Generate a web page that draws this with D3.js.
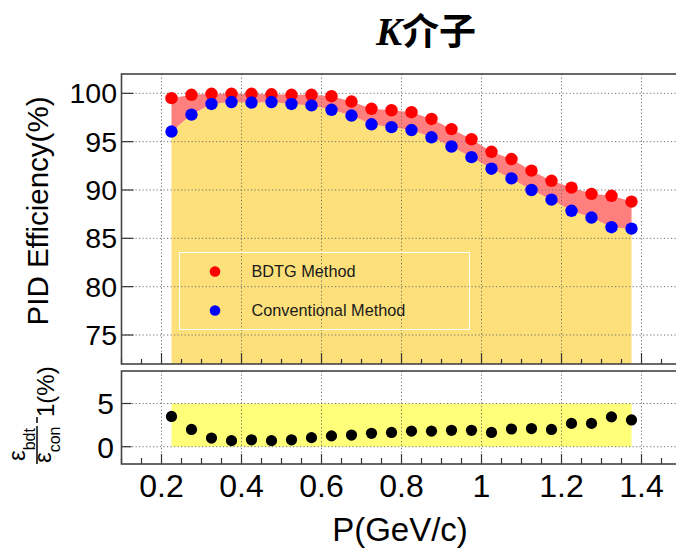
<!DOCTYPE html>
<html><head><meta charset="utf-8">
<script src="https://cdn.jsdelivr.net/npm/d3@7"></script>
<style>html,body{margin:0;padding:0;background:#fff;overflow:hidden}</style>
</head><body><svg id="c" width="676" height="553"></svg>
<script>
// Kaon PID efficiency vs momentum: BDTG vs conventional method, with relative gain panel
const momentum = [0.225,0.275,0.325,0.375,0.425,0.475,0.525,0.575,0.625,0.675,0.725,0.775,
                  0.825,0.875,0.925,0.975,1.025,1.075,1.125,1.175,1.225,1.275,1.325,1.375];
const bdtgEff = [99.5,99.85,99.95,99.95,99.95,99.9,99.85,99.85,99.7,99.15,98.4,98.25,
                 98.05,97.35,96.3,95.25,93.95,93.2,92.0,90.95,90.25,89.6,89.4,88.8];
const convEff = [96.05,97.8,98.9,99.1,99.05,99.1,98.9,98.75,98.3,97.7,96.8,96.5,
                 96.2,95.45,94.5,93.4,92.2,91.2,90.0,89.0,87.85,87.15,86.15,86.0];
const relGain = [3.5,2.0,1.0,0.7,0.8,0.7,0.8,1.05,1.25,1.35,1.55,1.65,
                 1.8,1.8,1.9,1.9,1.65,2.05,2.1,2.0,2.7,2.7,3.45,3.1];
const xTicks = [0.2,0.4,0.6,0.8,1.0,1.2,1.4];
const effTicks = [75,80,85,90,95,100];
const gainTicks = [0,5];
const gainBand = [0,5];
const legendLabels = ["BDTG Method","Conventional Method"];

const svg = d3.select("#c");
const FONT = "'Liberation Sans', Arial, Helvetica, sans-serif";
const W = {l:121.5, r:681.5};
const topP = {t:74, b:364};
const botP = {t:371, b:464};

const x = d3.scaleLinear().domain([0.1,1.5]).range([W.l, W.r]);
const yTop = d3.scaleLinear().domain([72,102]).range([topP.b, topP.t]);
const yBot = d3.scaleLinear().domain([-2,8.76]).range([botP.b, botP.t]);
const minorX = d3.range(0.1, 1.5001, 0.05);
const isMajor = d => xTicks.some(t => Math.abs(t - d) < 1e-6);

// ---------- title ----------
const title = svg.append("text").attr("x",426).attr("y",45).attr("text-anchor","middle");
title.append("tspan").text("K")
  .attr("font-family","'Liberation Serif', 'Times New Roman', serif")
  .attr("font-style","italic").attr("font-weight","bold").attr("font-size",39);
title.append("tspan").text("介子")
  .attr("font-family","'Noto Sans CJK SC', sans-serif").attr("font-weight","bold").attr("font-size",37);

// ---------- top panel ----------
const gT = svg.append("g");
gT.append("clipPath").attr("id","clipT").append("rect")
  .attr("x",W.l).attr("y",topP.t).attr("width",W.r-W.l).attr("height",topP.b-topP.t);
const fills = gT.append("g").attr("clip-path","url(#clipT)");

const areaConv = d3.area().x((d,i)=>x(momentum[i])).y0(yTop(72)).y1(d=>yTop(d));
fills.append("path").datum(convEff).attr("d",areaConv).attr("fill","#fde07a");

const band = d3.area().x((d,i)=>x(momentum[i])).y0((d,i)=>yTop(convEff[i])).y1(d=>yTop(d));
fills.append("path").datum(bdtgEff).attr("d",band).attr("fill","#ff7e7e");

// grid
const gridStyle = s => s.attr("stroke","#6f6f6f").attr("stroke-width",1).attr("stroke-dasharray","1.2,2.3");
gT.append("g").selectAll("line").data(xTicks).join("line")
  .attr("x1",d=>x(d)).attr("x2",d=>x(d)).attr("y1",topP.t).attr("y2",topP.b).call(gridStyle);
gT.append("g").selectAll("line").data(effTicks).join("line")
  .attr("x1",W.l).attr("x2",W.r).attr("y1",d=>yTop(d)).attr("y2",d=>yTop(d)).call(gridStyle);

// axis ticks and labels
gT.append("g").selectAll("line").data(effTicks).join("line")
  .attr("x1",W.l).attr("x2",W.l+12).attr("y1",d=>yTop(d)).attr("y2",d=>yTop(d))
  .attr("stroke","#333").attr("stroke-width",1.2);
gT.append("g").selectAll("line").data(minorX).join("line")
  .attr("x1",d=>x(d)).attr("x2",d=>x(d)).attr("y1",topP.b)
  .attr("y2",d=>topP.b-(isMajor(d)?11:5))
  .attr("stroke","#333").attr("stroke-width",1.2);
gT.append("g").selectAll("text").data(effTicks).join("text")
  .attr("x",117).attr("y",d=>yTop(d)+10).attr("text-anchor","end")
  .attr("font-family",FONT).attr("font-size",28.5).attr("fill","#000").text(d=>d);

// legend
const lg = gT.append("g");
lg.append("rect").attr("x",179.5).attr("y",252.5).attr("width",290).attr("height",77)
  .attr("fill","none").attr("stroke","#fff").attr("stroke-width",1);
const legCols = ["#ff0000","#0000ff"];
legendLabels.forEach((lab,i)=>{
  const yy = 271.5 + i*39;
  lg.append("circle").attr("cx",215).attr("cy",yy).attr("r",5.3).attr("fill",legCols[i]);
  lg.append("text").attr("x",251.5).attr("y",yy+5.8).attr("font-family",FONT)
    .attr("font-size",16.3).attr("fill","#1a1a1a").text(lab);
});

// markers
gT.append("g").selectAll("circle").data(bdtgEff).join("circle")
  .attr("cx",(d,i)=>x(momentum[i])).attr("cy",d=>yTop(d)).attr("r",6.2).attr("fill","#ff0000");
gT.append("g").selectAll("circle").data(convEff).join("circle")
  .attr("cx",(d,i)=>x(momentum[i])).attr("cy",d=>yTop(d)).attr("r",6.2).attr("fill","#0000ff");

// frame
gT.append("rect").attr("x",W.l).attr("y",topP.t).attr("width",W.r-W.l).attr("height",topP.b-topP.t)
  .attr("fill","none").attr("stroke","#444").attr("stroke-width",1.6);

// y title
svg.append("text").attr("transform","translate(48,211) rotate(-90)").attr("text-anchor","middle")
  .attr("font-family",FONT).attr("font-size",29.5).attr("fill","#000").text("PID Efficiency(%)");

// ---------- bottom panel ----------
const gB = svg.append("g");
gB.append("rect")
  .attr("x",x(momentum[0])).attr("width",x(momentum[momentum.length-1])-x(momentum[0]))
  .attr("y",yBot(gainBand[1])).attr("height",yBot(gainBand[0])-yBot(gainBand[1]))
  .attr("fill","#ffff7a");
gB.append("g").selectAll("line").data(xTicks).join("line")
  .attr("x1",d=>x(d)).attr("x2",d=>x(d)).attr("y1",botP.t).attr("y2",botP.b).call(gridStyle);
gB.append("g").selectAll("line").data(gainTicks).join("line")
  .attr("x1",W.l).attr("x2",W.r).attr("y1",d=>yBot(d)).attr("y2",d=>yBot(d)).call(gridStyle);
gB.append("g").selectAll("line").data(gainTicks).join("line")
  .attr("x1",W.l).attr("x2",W.l+10).attr("y1",d=>yBot(d)).attr("y2",d=>yBot(d))
  .attr("stroke","#333").attr("stroke-width",1.2);
gB.append("g").selectAll("line").data(minorX).join("line")
  .attr("x1",d=>x(d)).attr("x2",d=>x(d)).attr("y1",botP.b)
  .attr("y2",d=>botP.b-(isMajor(d)?10:6))
  .attr("stroke","#333").attr("stroke-width",1.2);
gB.append("g").selectAll("text").data(gainTicks).join("text")
  .attr("x",114).attr("y",d=>yBot(d)+11).attr("text-anchor","end")
  .attr("font-family",FONT).attr("font-size",30).attr("fill","#000").text(d=>d);
gB.append("g").selectAll("circle").data(relGain).join("circle")
  .attr("cx",(d,i)=>x(momentum[i])).attr("cy",d=>yBot(d)).attr("r",5.6).attr("fill","#000");
gB.append("rect").attr("x",W.l).attr("y",botP.t).attr("width",W.r-W.l).attr("height",botP.b-botP.t)
  .attr("fill","none").attr("stroke","#444").attr("stroke-width",1.6);

// x tick labels and title
svg.append("g").selectAll("text").data(xTicks).join("text")
  .attr("x",d=>x(d)).attr("y",497).attr("text-anchor","middle")
  .attr("font-family",FONT).attr("font-size",32).attr("fill","#000").text(d=>String(d));
svg.append("text").attr("x",400).attr("y",541).attr("text-anchor","middle")
  .attr("font-family",FONT).attr("font-size",33).attr("fill","#000").text("P(GeV/c)");

// bottom y title: eps_bdt / eps_con - 1(%)
const yt = svg.append("g").attr("transform","translate(37,464) rotate(-90)")
  .attr("font-family",FONT).attr("fill","#000");
yt.append("line").attr("x1",0).attr("x2",38).attr("y1",0).attr("y2",0).attr("stroke","#000").attr("stroke-width",1.5);
const num = yt.append("text").attr("x",3).attr("y",-12);
num.append("tspan").attr("font-size",24).text("ε");
num.append("tspan").attr("font-size",16).attr("dy",10).text("bdt");
const den = yt.append("text").attr("x",1).attr("y",14);
den.append("tspan").attr("font-size",24).text("ε");
den.append("tspan").attr("font-size",16).attr("dy",9).text("con");
yt.append("line").attr("x1",41).attr("x2",47).attr("y1",0).attr("y2",0).attr("stroke","#000").attr("stroke-width",1.5);
yt.append("text").attr("x",47).attr("y",17).attr("font-size",24).text("1(%)");
</script></body></html>
